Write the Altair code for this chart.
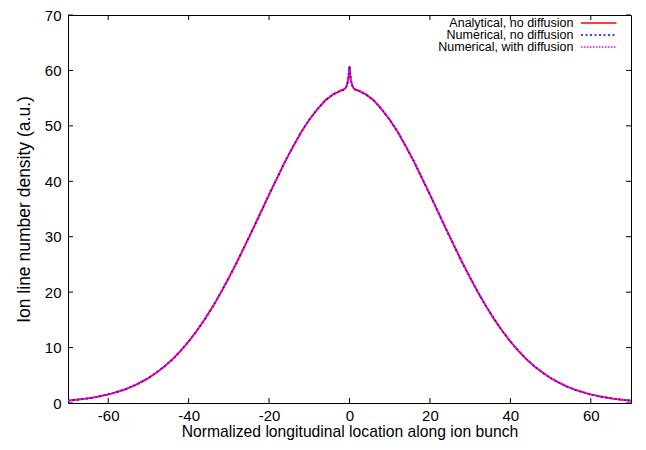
import altair as alt
import pandas as pd

# ---- data ----
x_vals = [-70, -68, -66, -64, -62, -60, -58, -56, -54, -52, -50, -48, -46, -44, -42,
          -40, -38, -36, -34, -32, -30, -28, -26, -24, -22, -20, -18, -16, -14, -12,
          -10, -8, -6, -4, -2, -1.5, -1, -0.6, -0.3, -0.1, 0, 0.1, 0.3, 0.6, 1, 1.5,
          2, 4, 6, 8, 10, 12, 14, 16, 18, 20, 22, 24, 26, 28, 30, 32, 34, 36, 38, 40,
          42, 44, 46, 48, 50, 52, 54, 56, 58, 60, 62, 64, 66, 68, 70]

y_analytical = [0.43, 0.57, 0.74, 0.95, 1.22, 1.55, 1.95, 2.4, 3.0, 3.7, 4.5, 5.5, 6.6, 7.9, 9.4,
                11.1, 13.0, 15.1, 17.4, 19.9, 22.6, 25.4, 28.4, 31.4, 34.5, 37.6, 40.6, 43.6, 46.3, 48.9,
                51.1, 53.0, 54.6, 55.7, 56.4, 56.5, 56.8, 57.4, 58.5, 60.0, 60.8, 60.0, 58.5, 57.4, 56.8, 56.5,
                56.4, 55.7, 54.6, 53.0, 51.1, 48.9, 46.3, 43.6, 40.6, 37.6, 34.5, 31.4, 28.4, 25.4, 22.6,
                19.9, 17.4, 15.1, 13.0, 11.1, 9.4, 7.9, 6.6, 5.5, 4.5, 3.7, 3.0, 2.4, 1.95, 1.55,
                1.22, 0.95, 0.74, 0.57, 0.43]

y_numerical = [0.43, 0.57, 0.74, 0.95, 1.22, 1.55, 1.95, 2.4, 3.0, 3.7, 4.5, 5.5, 6.6, 7.9, 9.4,
               11.1, 13.0, 15.1, 17.4, 19.9, 22.6, 25.4, 28.4, 31.4, 34.5, 37.6, 40.6, 43.6, 46.3, 48.9,
               51.1, 53.0, 54.6, 55.7, 56.4, 56.5, 56.8, 57.4, 58.5, 60.0, 60.7, 60.0, 58.5, 57.4, 56.8, 56.5,
               56.4, 55.7, 54.6, 53.0, 51.1, 48.9, 46.3, 43.6, 40.6, 37.6, 34.5, 31.4, 28.4, 25.4, 22.6,
               19.9, 17.4, 15.1, 13.0, 11.1, 9.4, 7.9, 6.6, 5.5, 4.5, 3.7, 3.0, 2.4, 1.95, 1.55,
               1.22, 0.95, 0.74, 0.57, 0.43]

y_diffusion = [0.43, 0.57, 0.74, 0.95, 1.22, 1.55, 1.95, 2.4, 3.0, 3.7, 4.5, 5.5, 6.6, 7.9, 9.4,
               11.1, 13.0, 15.1, 17.4, 19.9, 22.6, 25.4, 28.4, 31.4, 34.5, 37.6, 40.6, 43.6, 46.3, 48.9,
               51.1, 53.0, 54.7, 55.8, 56.5, 56.6, 56.9, 57.5, 58.4, 59.6, 60.2, 59.6, 58.4, 57.5, 56.9, 56.6,
               56.5, 55.8, 54.7, 53.0, 51.1, 48.9, 46.3, 43.6, 40.6, 37.6, 34.5, 31.4, 28.4, 25.4, 22.6,
               19.9, 17.4, 15.1, 13.0, 11.1, 9.4, 7.9, 6.6, 5.5, 4.5, 3.7, 3.0, 2.4, 1.95, 1.55,
               1.22, 0.95, 0.74, 0.57, 0.43]

series_names = ["Analytical, no diffusion", "Numerical, no diffusion", "Numerical, with diffusion"]
series_colors = ["#ff0000", "#0000ff", "#ff00ff"]
series_dashes = [[1, 0], [2, 2.5], [1.5, 1.5]]
x_ticks = [-60, -40, -20, 0, 20, 40, 60]
y_ticks = [0, 10, 20, 30, 40, 50, 60, 70]
x_title = "Normalized longitudinal location along ion bunch"
y_title = "Ion line number density (a.u.)"

W, H = 563, 388
FONT = "Liberation Sans"

xscale = alt.Scale(domain=[-70, 70], nice=False, zero=False)
yscale = alt.Scale(domain=[0, 70], nice=False)

xaxis = alt.Axis(values=x_ticks, domain=False, ticks=False, grid=False,
                 labelFont=FONT, labelFontSize=15, labelColor="black", labelPadding=5,
                 labelExpr="'' + datum.value",
                 title=x_title, titleFont=FONT, titleFontSize=15.7, titleFontWeight="normal",
                 titleColor="black", titlePadding=1)
yaxis = alt.Axis(values=y_ticks, domain=False, ticks=False, grid=False,
                 labelFont=FONT, labelFontSize=15, labelColor="black", labelPadding=7,
                 labelExpr="'' + datum.value",
                 title=y_title, titleFont=FONT, titleFontSize=17.5, titleFontWeight="normal",
                 titleColor="black", titlePadding=11)

xenc = alt.X("x:Q", scale=xscale, axis=xaxis)
yenc = alt.Y("y:Q", scale=yscale, axis=yaxis)

series_values = [y_analytical, y_numerical, y_diffusion]
layers = []
for name, ys, col, dash in zip(series_names, series_values, series_colors, series_dashes):
    d = pd.DataFrame({"x": x_vals, "y": ys, "series": name})
    layers.append(alt.Chart(d).mark_line(color=col, strokeDash=dash, strokeWidth=1.8,
                                         clip=True).encode(x=xenc, y=yenc))

# inward ticks on all four sides (gnuplot style)
xt = pd.DataFrame({"x": x_ticks})
yt = pd.DataFrame({"y": y_ticks})
TL = 5
layers.append(alt.Chart(xt).mark_rule(color="black", strokeWidth=1).encode(
    x=xenc, y=alt.value(H), y2=alt.value(H - TL)))
layers.append(alt.Chart(xt).mark_rule(color="black", strokeWidth=1).encode(
    x=xenc, y=alt.value(0), y2=alt.value(TL)))
layers.append(alt.Chart(yt).mark_rule(color="black", strokeWidth=1).encode(
    y=yenc, x=alt.value(0), x2=alt.value(TL)))
layers.append(alt.Chart(yt).mark_rule(color="black", strokeWidth=1).encode(
    y=yenc, x=alt.value(W - TL), x2=alt.value(W)))

# legend (label on the left, line sample on the right)
row_y = [8.0, 20.0, 32.0]
for name, col, dash, ry in zip(series_names, series_colors, series_dashes, row_y):
    ld = pd.DataFrame({"label": [name]})
    layers.append(alt.Chart(ld).mark_text(align="right", baseline="middle", font=FONT,
                                          fontSize=12.5, color="black").encode(
        x=alt.value(505.5), y=alt.value(ry), text="label:N"))
    layers.append(alt.Chart(ld).mark_rule(color=col, strokeDash=dash, strokeWidth=1.6).encode(
        x=alt.value(513), x2=alt.value(548.5), y=alt.value(ry)))

chart = alt.layer(*layers).properties(
    width=W, height=H,
    autosize=alt.AutoSizeParams(type="none"),
    padding={"left": 60, "top": 7, "right": 7, "bottom": 47},
    background="white",
).configure_view(stroke="black", strokeWidth=1)

chart.save("out.html", embed_options={"renderer": "svg", "actions": False})
